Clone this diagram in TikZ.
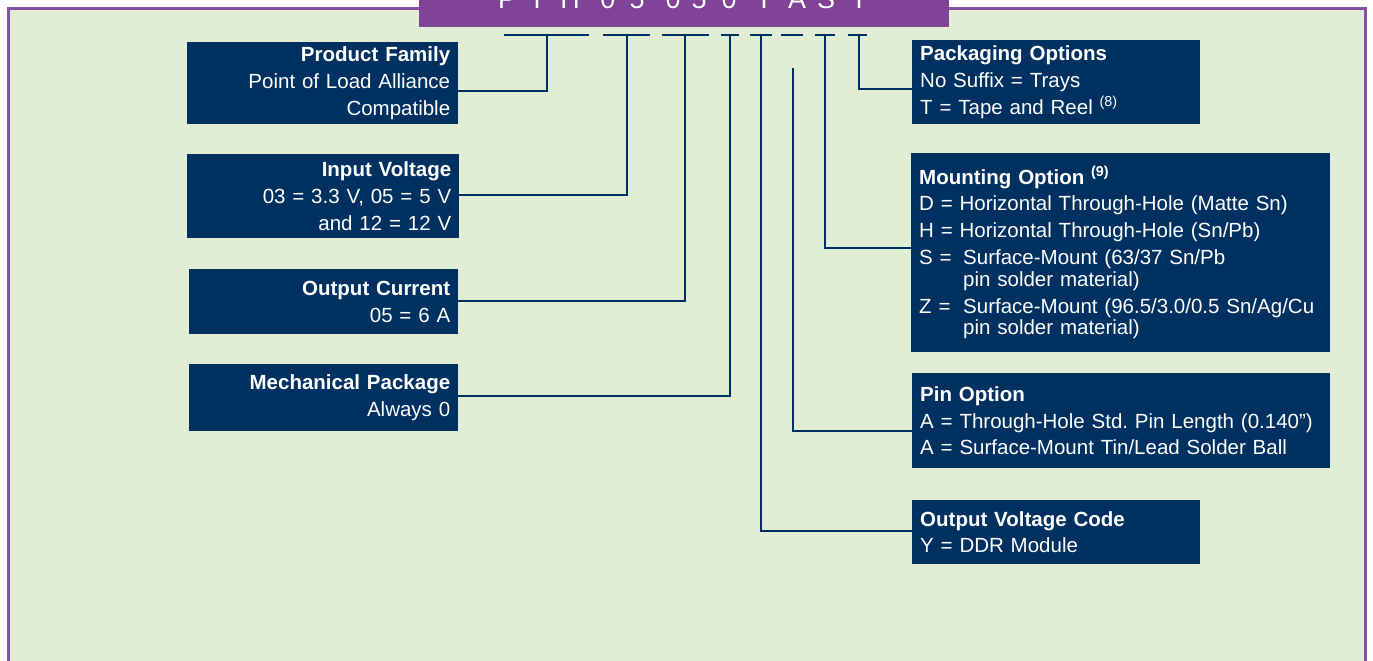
\documentclass[tikz,border=0pt]{standalone}
\usepackage{fontspec}
\setmainfont{Liberation Sans}
\usetikzlibrary{positioning,calc}
\definecolor{tinavy}{RGB}{0,49,96}
\definecolor{tipurple}{RGB}{127,67,151}
\definecolor{tiframe}{RGB}{132,82,162}
\definecolor{tigreen}{RGB}{225,238,213}

\tikzset{
  infobox/.style={fill=tinavy, text=white, inner xsep=8pt, inner ysep=4pt,
    anchor=north west, font=\fontsize{20.5}{26.8}\selectfont},
  leftinfo/.style={infobox, align=right},
  rightinfo/.style={infobox, align=left},
  link/.style={draw=tinavy, line width=2pt},
  codechar/.style={text=white, font=\fontsize{27}{27}\selectfont, anchor=base, inner sep=0pt}
}

\begin{document}
\begin{tikzpicture}[x=1pt, y=-1pt]
    \useasboundingbox (0,0) rectangle (1373,661);
    \clip (0,0) rectangle (1373,661);
    \fill[white] (0,0) rectangle (1373,661);
    \draw[tiframe, line width=2.5pt, fill=tigreen] (8.5,8.5) rectangle (1365.5,700);

    % part number bar
    \node[fill=tipurple, minimum width=530pt, minimum height=40pt, inner sep=0pt, anchor=south west] (codebar) at (419,27) {};
    \foreach \x/\c [count=\i] in {507/P,537/T,570/H,608/0,637/5,673/0,699/5,729/0,764/Y,797/A,826/S,859/T}
        \node[codechar] (ch\i) at (\x,9) {\c};
    \foreach \a/\b in {504/589,603/650,662/709,721/739,750/772,781/803,815/835,848/867}
        \draw[link] (\a,35) -- (\b,35);

    % left boxes
    \node[leftinfo, text width=255pt, minimum height=82pt] (pf) at (187,42)
        {\textbf{Product Family}\\Point of Load Alliance\\Compatible};
    \node[leftinfo, text width=256pt, minimum height=84pt] (iv) at (187,154)
        {\textbf{Input Voltage}\\03 = 3.3 V, 05 = 5 V\\and 12 = 12 V};
    \node[leftinfo, text width=253pt, minimum height=65pt] (oc) at (189,269)
        {\textbf{Output Current}\\05 = 6 A};
    \node[leftinfo, text width=253pt, minimum height=67pt] (mp) at (189,364)
        {\textbf{Mechanical Package}\\Always 0};

    % right boxes
    \node[rightinfo, text width=272pt, minimum height=84pt] (pk) at (912,40)
        {\textbf{Packaging Options}\\No Suffix = Trays\\T = Tape and Reel \textsuperscript{(8)}};
    \node[rightinfo, text width=403pt, minimum height=199pt] (mo) at (911,153)
        {\textbf{Mounting Option \textsuperscript{(9)}}\\
         D = Horizontal Through-Hole (Matte Sn)\\
         H = Horizontal Through-Hole (Sn/Pb)\\
         \makebox[44pt][l]{S =}Surface-Mount (63/37 Sn/Pb\\[-5pt]
         \hspace*{44pt}pin solder material)\\
         \makebox[44pt][l]{Z =}Surface-Mount (96.5/3.0/0.5 Sn/Ag/Cu\\[-5pt]
         \hspace*{44pt}pin solder material)};
    \node[rightinfo, text width=402pt, minimum height=95pt] (po) at (912,373)
        {\textbf{Pin Option}\\A = Through-Hole Std.\ Pin Length (0.140\textquotedblright)\\A = Surface-Mount Tin/Lead Solder Ball};
    \node[rightinfo, text width=272pt, minimum height=64pt] (ov) at (912,500)
        {\textbf{Output Voltage Code}\\Y = DDR Module};

    % tick points under the part number
    \coordinate (tpf) at (547,35);
    \coordinate (tiv) at (627,35);
    \coordinate (toc) at (685,35);
    \coordinate (tmp) at (730,35);
    \coordinate (tov) at (761,35);
    \coordinate (tpo) at (793,68);
    \coordinate (tmo) at (825,35);
    \coordinate (tpk) at (859,35);

    \draw[link] (tpf) |- (pf.east |- 0,91);
    \draw[link] (tiv) |- (iv.east |- 0,195);
    \draw[link] (toc) |- (oc.east |- 0,301);
    \draw[link] (tmp) |- (mp.east |- 0,396);
    \draw[link] (tov) |- (ov.west |- 0,531);
    \draw[link] (tpo) |- (po.west |- 0,431);
    \draw[link] (tmo) |- (mo.west |- 0,248);
    \draw[link] (tpk) |- (pk.west |- 0,89);
\end{tikzpicture}
\end{document}
